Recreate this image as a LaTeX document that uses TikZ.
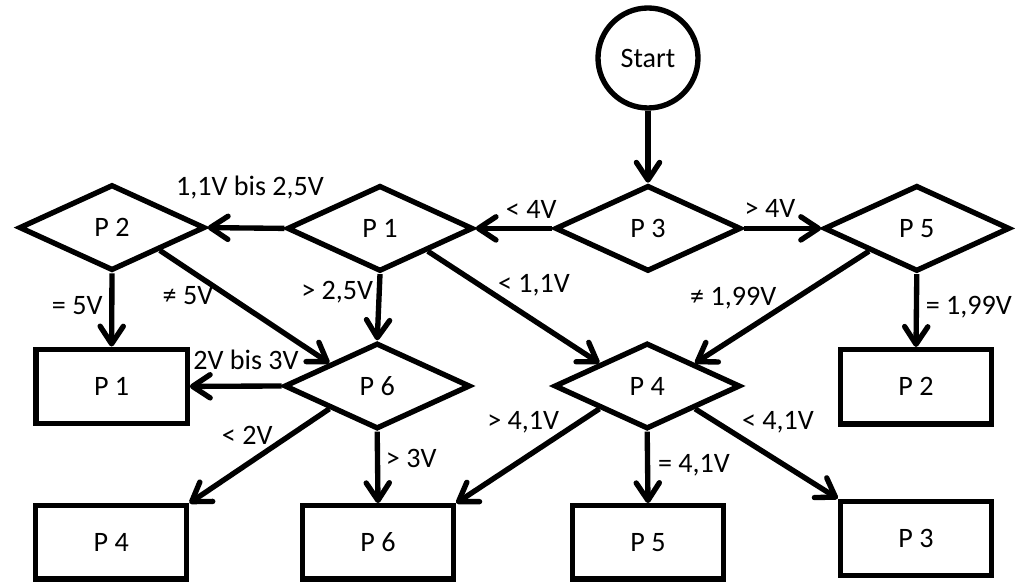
\documentclass[tikz,border=0pt]{standalone}
\usepackage{fontspec}
\setmainfont{Carlito}
\usepackage{tikz}
\usetikzlibrary{shapes.geometric, arrows.meta}

\tikzset{
	dec/.style={draw, diamond, line width=3.8pt, minimum width=4.65cm, minimum height=2.15cm, inner sep=0pt},
	proc/.style={draw, rectangle, line width=3.8pt, minimum width=3.78cm, minimum height=1.86cm, inner sep=0pt},
	term/.style={draw, circle, line width=3.8pt, minimum size=2.5cm, inner sep=0pt},
	flow/.style={-{Straight Barb[length=0.44cm, width=0.58cm, round]}, line width=3.8pt},
	lbl/.style={inner sep=0pt}
}

\begin{document}
\begin{tikzpicture}[font=\fontsize{20}{24}\selectfont]
	\useasboundingbox (0, 0) rectangle (25.45, 14.55);

	\node [term] (start) at (16.2, 13.1) {Start};

	\node [dec] (d3) at (16.2, 8.84) {P 3};
	\node [dec] (d1) at (9.5, 8.84) {P 1};
	\node [dec] (d2) at (2.8, 8.86) {P 2};
	\node [dec] (d5) at (22.92, 8.84) {P 5};
	\node [dec] (d6) at (9.43, 4.9) {P 6};
	\node [dec] (d4) at (16.18, 4.9) {P 4};

	\node [proc] (b1) at (2.79, 4.89) {P 1};
	\node [proc] (b2) at (22.9, 4.88) {P 2};
	\node [proc, minimum height=1.83cm] (b4) at (2.78, 0.99) {P 4};
	\node [proc, minimum height=1.83cm] (b6) at (9.45, 0.99) {P 6};
	\node [proc, minimum height=1.83cm] (b5) at (16.2, 0.99) {P 5};
	\node [proc, minimum height=1.86cm] (b3) at (22.9, 1.09) {P 3};

	\draw [flow] (start.south) -- (d3.north);
	\draw [flow] (d3.west) -- (d1.east);
	\draw [flow] (d3.east) -- (d5.west);
	\draw [flow] (d1.west) -- (d2.east);
	\draw [flow] (d1.south) -- (d6.north);
	\draw [flow] (d1.south east) -- (d4.north west);
	\draw [flow] (d5.south west) -- (d4.north east);
	\draw [flow] (d5.south) -- (b2.north);
	\draw [flow] (d2.south) -- (b1.north);
	\draw [flow] (d2.south east) -- (d6.north west);
	\draw [flow] (d6.west) -- (b1.east);
	\draw [flow] (d6.south west) -- (b4.north east);
	\draw [flow] (d6.south) -- (b6.north);
	\draw [flow] (d4.south west) -- (b6.north east);
	\draw [flow] (d4.south) -- (b5.north);
	\draw [flow] (d4.south east) -- (b3.north west);

	\node [lbl] (l12) at (6.25, 9.87) {1,1V bis 2,5V};
	\node [lbl] (l31) at (13.28, 9.32) {< 4V};
	\node [lbl] (l35) at (19.25, 9.35) {> 4V};
	\node [lbl] (l16) at (8.43, 7.25) {> 2,5V};
	\node [lbl] (l14) at (13.35, 7.42) {< 1,1V};
	\node [lbl] (l54) at (18.33, 7.1) {≠ 1,99V};
	\node [lbl] (l52) at (24.22, 6.88) {= 1,99V};
	\node [lbl] (l21) at (1.93, 6.92) {= 5V};
	\node [lbl] (l26) at (4.7, 7.15) {≠ 5V};
	\node [lbl] (l61) at (6.15, 5.55) {2V bis 3V};
	\node [lbl] (l64) at (6.18, 3.67) {< 2V};
	\node [lbl] (l66) at (10.28, 3.1) {> 3V};
	\node [lbl] (l46) at (13.08, 4.0) {> 4,1V};
	\node [lbl] (l45) at (17.35, 2.92) {= 4,1V};
	\node [lbl] (l43) at (19.45, 4.0) {< 4,1V};

\end{tikzpicture}
\end{document}
